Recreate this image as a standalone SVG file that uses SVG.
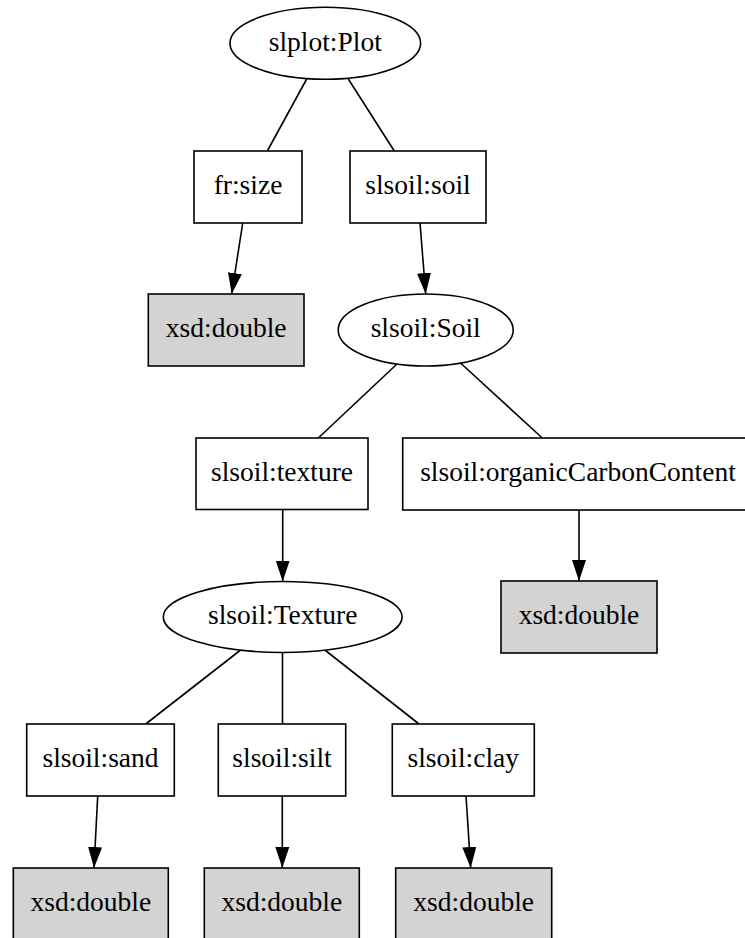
<svg xmlns="http://www.w3.org/2000/svg" width="745" height="938" viewBox="0 0 745 938">
<style>
.n{fill:#ffffff;stroke:#000000;stroke-width:1.6}
.g{fill:#d3d3d3;stroke:#000000;stroke-width:1.6}
.t{font-size:27.5px;text-anchor:middle;fill:#000000}
.e{fill:none;stroke:#000000;stroke-width:1.6}
.a{fill:none;stroke:#000000;stroke-width:1.6;marker-end:url(#ah)}
</style>
<defs>
<marker id="ah" markerUnits="userSpaceOnUse" viewBox="0 0 21 15" refX="21" refY="7.5" markerWidth="21" markerHeight="15" orient="auto">
<path d="M0,0.5 L21,7.5 L0,14.5 z" fill="#000000"/>
</marker>
</defs>
<rect width="745" height="938" fill="#ffffff"/>
<g id="connectors">
<path class="e" d="M306.7,79 L267.3,151"/>
<path class="e" d="M348.3,79 L394.3,151"/>
<path class="a" d="M242.7,223 L231.7,294"/>
<path class="a" d="M420,223 L425.7,294"/>
<path class="e" d="M397,364 L318.3,438"/>
<path class="e" d="M460.5,363 L542.3,438"/>
<path class="a" d="M282.7,509.5 L282.7,581.5"/>
<path class="a" d="M579,510 L579,581"/>
<path class="e" d="M240,650.5 L145.7,724"/>
<path class="e" d="M282.5,652.5 L282.5,724"/>
<path class="e" d="M325.5,650.5 L419,724"/>
<path class="a" d="M97.7,796 L94,868"/>
<path class="a" d="M282.3,796 L282.3,868"/>
<path class="a" d="M466,796 L470.7,868"/>
</g>
<g id="plot">
<ellipse class="n" cx="325.3" cy="43.3" rx="95.3" ry="36"/>
<text class="t" font-family="Liberation Serif" x="325.3" y="50.5">slplot:Plot</text>
</g>
<g id="frsize">
<rect class="n" x="194" y="151" width="108" height="72"/>
<text class="t" font-family="Liberation Serif" x="248" y="194">fr:size</text>
</g>
<g id="soilprop">
<rect class="n" x="350" y="151" width="136" height="72"/>
<text class="t" font-family="Liberation Serif" x="418" y="194">slsoil:soil</text>
</g>
<g id="double1">
<rect class="g" x="148.3" y="294" width="155.7" height="72"/>
<text class="t" font-family="Liberation Serif" x="226.2" y="337">xsd:double</text>
</g>
<g id="soil">
<ellipse class="n" cx="425.7" cy="330" rx="87.5" ry="36"/>
<text class="t" font-family="Liberation Serif" x="425.7" y="337.3">slsoil:Soil</text>
</g>
<g id="textureprop">
<rect class="n" x="196" y="438" width="172" height="71.5"/>
<text class="t" font-family="Liberation Serif" x="282" y="480.5">slsoil:texture</text>
</g>
<g id="organic">
<rect class="n" x="402.7" y="438" width="351" height="72"/>
<text class="t" font-family="Liberation Serif" x="578" y="481">slsoil:organicCarbonContent</text>
</g>
<g id="texture">
<ellipse class="n" cx="282.7" cy="617" rx="119.4" ry="35.5"/>
<text class="t" font-family="Liberation Serif" x="282.7" y="624.3">slsoil:Texture</text>
</g>
<g id="double2">
<rect class="g" x="501" y="581" width="156" height="72"/>
<text class="t" font-family="Liberation Serif" x="579" y="624">xsd:double</text>
</g>
<g id="sand">
<rect class="n" x="26.7" y="724" width="147.6" height="72"/>
<text class="t" font-family="Liberation Serif" x="100.5" y="767">slsoil:sand</text>
</g>
<g id="silt">
<rect class="n" x="218.3" y="724" width="127.4" height="72"/>
<text class="t" font-family="Liberation Serif" x="282" y="767">slsoil:silt</text>
</g>
<g id="clay">
<rect class="n" x="392.3" y="724" width="142" height="72"/>
<text class="t" font-family="Liberation Serif" x="463.3" y="767">slsoil:clay</text>
</g>
<g id="double3">
<rect class="g" x="13.3" y="868" width="155" height="72"/>
<text class="t" font-family="Liberation Serif" x="90.8" y="911">xsd:double</text>
</g>
<g id="double4">
<rect class="g" x="204.3" y="868" width="155" height="72"/>
<text class="t" font-family="Liberation Serif" x="281.8" y="911">xsd:double</text>
</g>
<g id="double5">
<rect class="g" x="395.7" y="868" width="156" height="72"/>
<text class="t" font-family="Liberation Serif" x="473.7" y="911">xsd:double</text>
</g>
</svg>
